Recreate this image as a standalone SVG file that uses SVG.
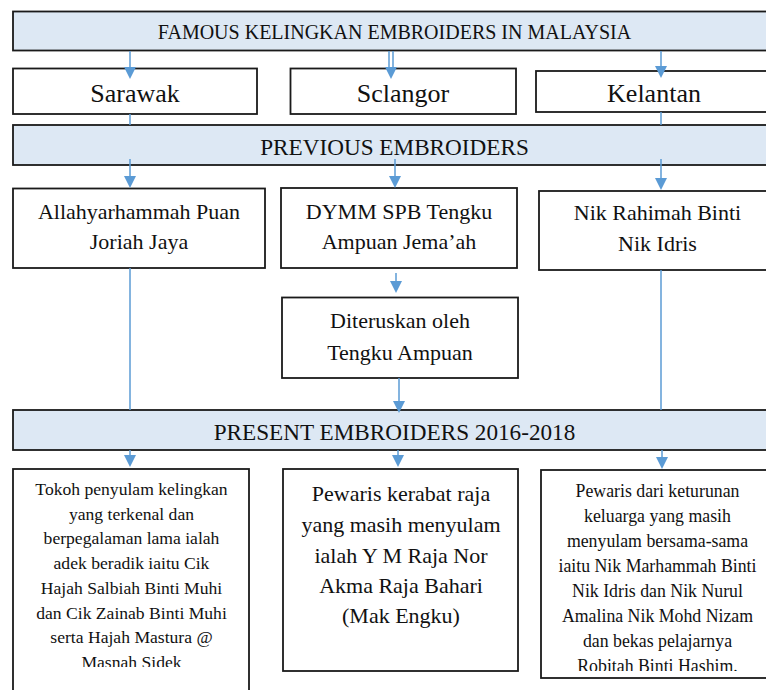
<svg xmlns="http://www.w3.org/2000/svg" width="766" height="690" viewBox="0 0 766 690">
<style>
.banner{fill:#dde8f4;stroke:#1a1a1a;stroke-width:1.8}
.box{fill:#ffffff;stroke:#1a1a1a;stroke-width:1.8}
.t{font-family:"Liberation Serif","Times New Roman",serif;fill:#111;text-anchor:middle}
.bt{font-size:20px}
.bt2{font-size:23.2px}
.st{font-size:26px}
.mt{font-size:22px}
.sm{font-size:17.6px}
.sm2{font-size:17.8px}
.c{stroke:#5b9bd5;stroke-width:1.5;fill:none}
.ah{fill:#5b9bd5}
</style>
<defs>
<clipPath id="clip1"><rect x="14" y="470" width="234" height="197"/></clipPath>
<clipPath id="clip3"><rect x="542" y="471" width="230" height="200"/></clipPath>
</defs>
<rect width="766" height="690" fill="#ffffff"/>

<g id="banner-famous">
<rect class="banner" x="13" y="11.5" width="770" height="39"/>
<text class="t bt" x="394.5" y="38.5">FAMOUS KELINGKAN EMBROIDERS IN MALAYSIA</text>
</g>
<g id="sarawak">
<rect class="box" x="13" y="68.5" width="244" height="45.5"/>
<text class="t st" x="135" y="102">Sarawak</text>
</g>
<g id="selangor">
<rect class="box" x="290.5" y="68.5" width="225.5" height="45.5"/>
<text class="t st" x="403" y="102">Sclangor</text>
</g>
<g id="kelantan">
<rect class="box" x="536" y="71" width="240" height="41"/>
<text class="t st" x="654" y="102">Kelantan</text>
</g>

<g id="banner-previous">
<rect class="banner" x="13" y="125" width="770" height="40"/>
<text class="t bt2" x="394.5" y="155">PREVIOUS EMBROIDERS</text>
</g>
<g id="allahyarhammah">
<rect class="box" x="13" y="188.5" width="252" height="79.5"/>
<text class="t mt" x="139" y="219">Allahyarhammah Puan</text>
<text class="t mt" x="139" y="249">Joriah Jaya</text>
</g>
<g id="dymm">
<rect class="box" x="281" y="188" width="236" height="80"/>
<text class="t mt" x="399" y="219">DYMM SPB Tengku</text>
<text class="t mt" x="399" y="249">Ampuan Jema’ah</text>
</g>
<g id="nik-rahimah">
<rect class="box" x="539" y="191" width="240" height="79"/>
<text class="t mt" x="657.5" y="220">Nik Rahimah Binti</text>
<text class="t mt" x="657.5" y="251">Nik Idris</text>
</g>
<g id="diteruskan">
<rect class="box" x="282" y="297.5" width="236" height="80.5"/>
<text class="t mt" x="400" y="328">Diteruskan oleh</text>
<text class="t mt" x="400" y="360">Tengku Ampuan</text>
</g>

<g id="banner-present">
<rect class="banner" x="13" y="410" width="770" height="40"/>
<text class="t bt2" x="394.5" y="440">PRESENT EMBROIDERS 2016-2018</text>
</g>
<g id="present-left">
<rect class="box" x="13" y="469" width="236" height="240"/>
<g clip-path="url(#clip1)">
<text class="t sm" x="131.5" y="495">Tokoh penyulam kelingkan</text>
<text class="t sm" x="131.5" y="519.7">yang terkenal dan</text>
<text class="t sm" x="131.5" y="544.4">berpegalaman lama ialah</text>
<text class="t sm" x="131.5" y="569.1">adek beradik iaitu Cik</text>
<text class="t sm" x="131.5" y="593.8">Hajah Salbiah Binti Muhi</text>
<text class="t sm" x="131.5" y="618.5">dan Cik Zainab Binti Muhi</text>
<text class="t sm" x="131.5" y="643.2">serta Hajah Mastura @</text>
<text class="t sm" x="131.5" y="667.9">Masnah Sidek</text>
</g>
</g>
<g id="present-middle">
<rect class="box" x="283" y="469" width="235" height="202"/>
<text class="t mt" x="401" y="501">Pewaris kerabat raja</text>
<text class="t mt" x="401" y="532">yang masih menyulam</text>
<text class="t mt" x="401" y="563">ialah Y M Raja Nor</text>
<text class="t mt" x="401" y="593">Akma Raja Bahari</text>
<text class="t mt" x="401" y="623">(Mak Engku)</text>
</g>
<g id="present-right">
<rect class="box" x="541" y="470" width="240" height="208"/>
<g clip-path="url(#clip3)">
<text class="t sm2" x="657.5" y="497">Pewaris dari keturunan</text>
<text class="t sm2" x="657.5" y="522">keluarga yang masih</text>
<text class="t sm2" x="657.5" y="547">menyulam bersama-sama</text>
<text class="t sm2" x="657.5" y="572">iaitu Nik Marhammah Binti</text>
<text class="t sm2" x="657.5" y="597">Nik Idris dan Nik Nurul</text>
<text class="t sm2" x="657.5" y="622">Amalina Nik Mohd Nizam</text>
<text class="t sm2" x="657.5" y="647">dan bekas pelajarnya</text>
<text class="t sm2" x="657.5" y="672">Robitah Binti Hashim.</text>
</g>
</g>

<g id="connectors">
<path class="c" d="M130 51V70"/><polygon class="ah" points="124,67 136,67 130,79"/>
<path class="c" d="M389 51V68"/>
<path class="c" d="M393 51V70"/><polygon class="ah" points="385,67 397,67 391,79"/>
<path class="c" d="M661 51V68"/><polygon class="ah" points="655,66 667,66 661,78"/>
<path class="c" d="M130 114V125"/>
<path class="c" d="M661 112V125"/>
<path class="c" d="M130 159V180"/><polygon class="ah" points="124,176 136,176 130,188"/>
<path class="c" d="M395 159V180"/><polygon class="ah" points="389,176 401,176 395,188"/>
<path class="c" d="M661 159V182"/><polygon class="ah" points="655,178 667,178 661,190"/>
<path class="c" d="M396 273V285"/><polygon class="ah" points="390,281 402,281 396,293"/>
<path class="c" d="M130 268V410"/>
<path class="c" d="M661 270V410"/>
<path class="c" d="M399 378V405"/><polygon class="ah" points="393,401 405,401 399,413"/>
<path class="c" d="M130 450V458"/><polygon class="ah" points="124,455 136,455 130,467"/>
<path class="c" d="M398 450V458"/><polygon class="ah" points="392,455 404,455 398,467"/>
<path class="c" d="M662 450V460"/><polygon class="ah" points="656,457 668,457 662,469"/>
</g>
</svg>
